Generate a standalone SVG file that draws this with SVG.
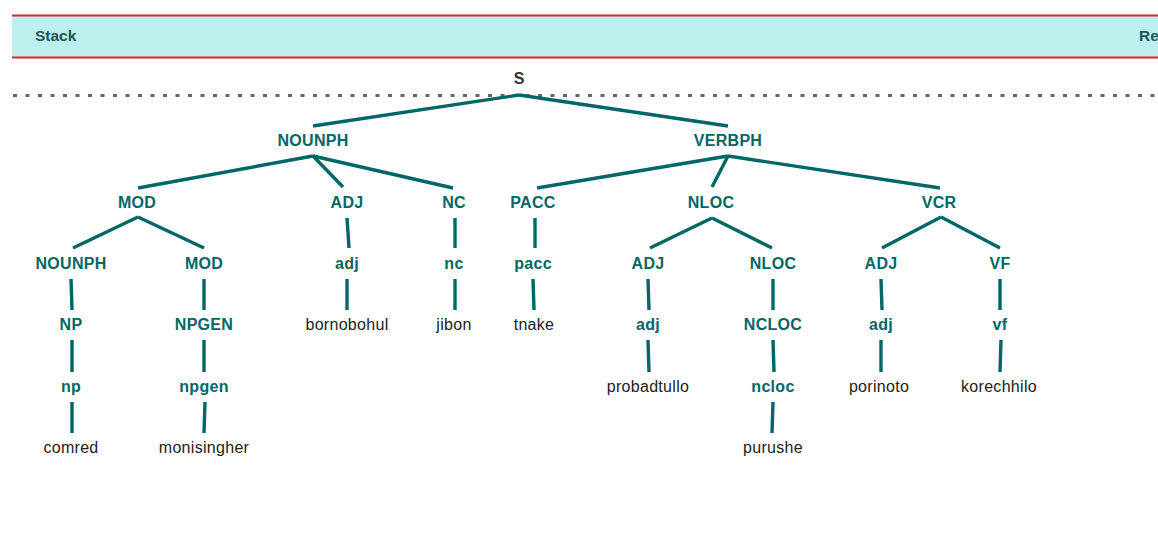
<svg xmlns="http://www.w3.org/2000/svg" width="1158" height="533" viewBox="0 0 1158 533">
<style>
.lbl{font-family:"Liberation Sans",Arial,sans-serif;font-size:16px;font-weight:bold;fill:#006666;text-anchor:middle;letter-spacing:0.3px}
.leaf{font-family:"Liberation Sans",Arial,sans-serif;font-size:16px;fill:#222;text-anchor:middle;letter-spacing:0.3px}
.root{font-family:"Liberation Sans",Arial,sans-serif;font-size:16px;font-weight:bold;fill:#333;text-anchor:middle}
.hdr{font-family:"Liberation Sans",Arial,sans-serif;font-size:15.5px;font-weight:bold;fill:#1f5555}
#edges line{stroke:#006666;stroke-width:3.4;fill:none}
</style>
<rect width="1158" height="533" fill="#ffffff"/>
<g id="header">
<rect x="12" y="15" width="1150" height="42" fill="#bdefee"/>
<line x1="12" y1="15.5" x2="1158" y2="15.5" stroke="#e8202a" stroke-width="2"/>
<line x1="12" y1="57.5" x2="1158" y2="57.5" stroke="#e8202a" stroke-width="2"/>
<text class="hdr" x="35" y="41">Stack</text>
<text class="hdr" x="1139" y="41">Re</text>
</g>
<line id="baseline" x1="13" y1="95.5" x2="1158" y2="95.5" stroke="#666" stroke-width="3" stroke-dasharray="4 8.5"/>
<g id="edges">
<line x1="519" y1="95" x2="313" y2="126"/>
<line x1="519" y1="95" x2="728" y2="126"/>
<line x1="313" y1="156" x2="138" y2="188"/>
<line x1="313" y1="156" x2="343" y2="187"/>
<line x1="313" y1="156" x2="453" y2="188"/>
<line x1="728" y1="156" x2="537" y2="188"/>
<line x1="728" y1="156" x2="712" y2="187"/>
<line x1="728" y1="156" x2="940" y2="188"/>
<line x1="138" y1="217" x2="73" y2="248"/>
<line x1="138" y1="217" x2="204" y2="248"/>
<line x1="347" y1="218" x2="349" y2="248"/>
<line x1="455" y1="218" x2="455" y2="248"/>
<line x1="535" y1="218" x2="535" y2="248"/>
<line x1="712" y1="218" x2="650" y2="248"/>
<line x1="712" y1="218" x2="772" y2="248"/>
<line x1="941" y1="217" x2="882" y2="248"/>
<line x1="941" y1="217" x2="1000" y2="248"/>
<line x1="71" y1="279" x2="72" y2="310"/>
<line x1="204" y1="279" x2="204" y2="310"/>
<line x1="347" y1="279" x2="347" y2="310"/>
<line x1="455" y1="279" x2="455" y2="310"/>
<line x1="533" y1="279" x2="534" y2="310"/>
<line x1="648" y1="279" x2="649" y2="310"/>
<line x1="773" y1="279" x2="773" y2="310"/>
<line x1="881" y1="279" x2="882" y2="310"/>
<line x1="1000" y1="279" x2="1000" y2="310"/>
<line x1="72" y1="340" x2="72" y2="372"/>
<line x1="204" y1="340" x2="204" y2="372"/>
<line x1="648" y1="340" x2="649" y2="372"/>
<line x1="773" y1="340" x2="774" y2="372"/>
<line x1="881" y1="340" x2="881" y2="372"/>
<line x1="1001" y1="340" x2="1000" y2="372"/>
<line x1="72" y1="402" x2="72" y2="433"/>
<line x1="205" y1="402" x2="204" y2="433"/>
<line x1="773" y1="402" x2="772" y2="433"/>
</g>
<g id="n_S"><text class="root" x="519" y="84">S</text></g>
<g id="n_NOUNPH1"><text class="lbl" x="313" y="146">NOUNPH</text></g>
<g id="n_VERBPH"><text class="lbl" x="728" y="146">VERBPH</text></g>
<g id="n_MOD1"><text class="lbl" x="137" y="208">MOD</text></g>
<g id="n_ADJ1"><text class="lbl" x="347" y="208">ADJ</text></g>
<g id="n_NC"><text class="lbl" x="454" y="208">NC</text></g>
<g id="n_PACC"><text class="lbl" x="533" y="208">PACC</text></g>
<g id="n_NLOC1"><text class="lbl" x="711" y="208">NLOC</text></g>
<g id="n_VCR"><text class="lbl" x="939" y="208">VCR</text></g>
<g id="n_NOUNPH2"><text class="lbl" x="71" y="269">NOUNPH</text></g>
<g id="n_MOD2"><text class="lbl" x="204" y="269">MOD</text></g>
<g id="n_adj1"><text class="lbl" x="347" y="269">adj</text></g>
<g id="n_nc"><text class="lbl" x="454" y="269">nc</text></g>
<g id="n_pacc"><text class="lbl" x="533" y="269">pacc</text></g>
<g id="n_ADJ2"><text class="lbl" x="648" y="269">ADJ</text></g>
<g id="n_NLOC2"><text class="lbl" x="773" y="269">NLOC</text></g>
<g id="n_ADJ3"><text class="lbl" x="881" y="269">ADJ</text></g>
<g id="n_VF"><text class="lbl" x="1000" y="269">VF</text></g>
<g id="n_NP"><text class="lbl" x="71" y="330">NP</text></g>
<g id="n_NPGEN"><text class="lbl" x="204" y="330">NPGEN</text></g>
<g id="n_bornobohul"><text class="leaf" x="347" y="330">bornobohul</text></g>
<g id="n_jibon"><text class="leaf" x="454" y="330">jibon</text></g>
<g id="n_tnake"><text class="leaf" x="534" y="330">tnake</text></g>
<g id="n_adj2"><text class="lbl" x="648" y="330">adj</text></g>
<g id="n_NCLOC"><text class="lbl" x="773" y="330">NCLOC</text></g>
<g id="n_adj3"><text class="lbl" x="881" y="330">adj</text></g>
<g id="n_vf"><text class="lbl" x="1000" y="330">vf</text></g>
<g id="n_np"><text class="lbl" x="71" y="392">np</text></g>
<g id="n_npgen"><text class="lbl" x="204" y="392">npgen</text></g>
<g id="n_probadtullo"><text class="leaf" x="648" y="392">probadtullo</text></g>
<g id="n_ncloc"><text class="lbl" x="773" y="392">ncloc</text></g>
<g id="n_porinoto"><text class="leaf" x="879" y="392">porinoto</text></g>
<g id="n_korechhilo"><text class="leaf" x="999" y="392">korechhilo</text></g>
<g id="n_comred"><text class="leaf" x="71" y="453">comred</text></g>
<g id="n_monisingher"><text class="leaf" x="204" y="453">monisingher</text></g>
<g id="n_purushe"><text class="leaf" x="773" y="453">purushe</text></g>
</svg>
